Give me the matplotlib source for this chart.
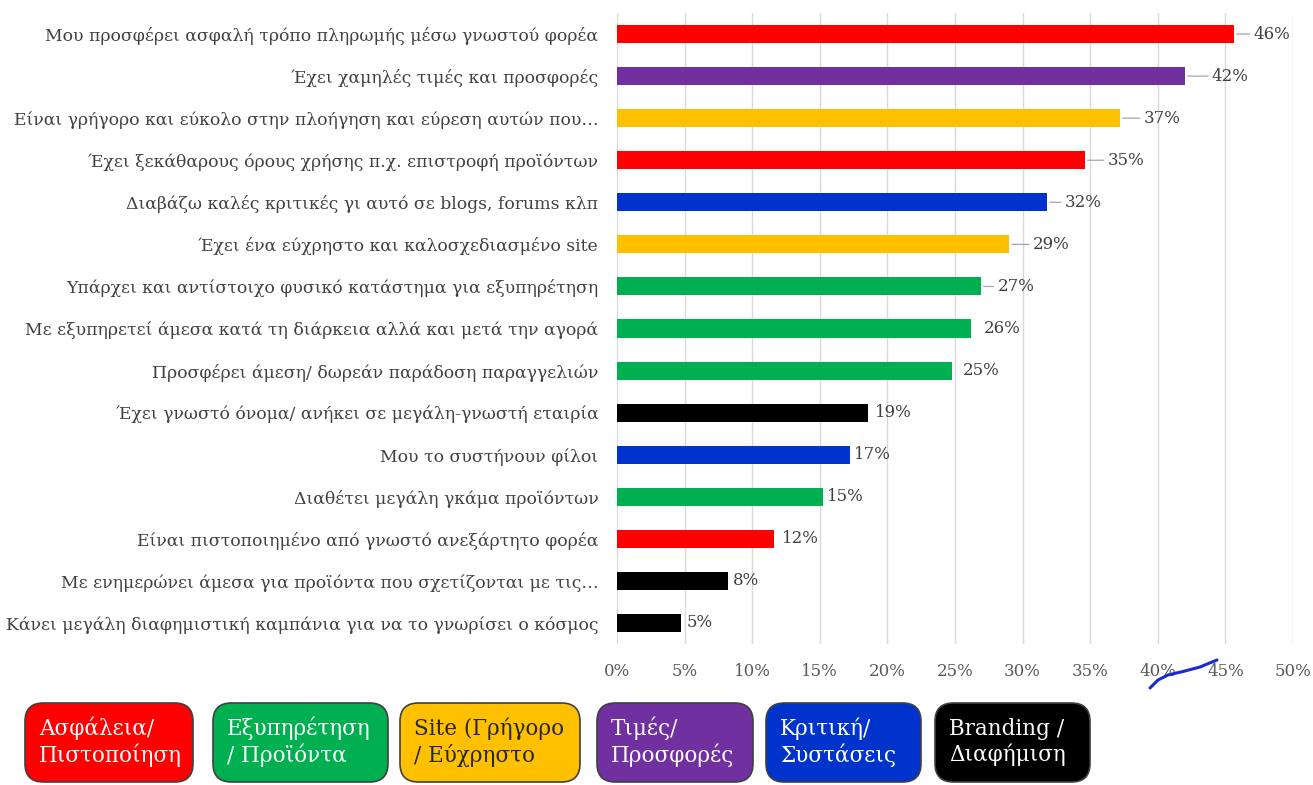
import matplotlib
matplotlib.use('Agg')
import matplotlib.pyplot as plt
from matplotlib.patches import FancyBboxPatch
from matplotlib.lines import Line2D
from matplotlib.ticker import FuncFormatter, MultipleLocator

plt.rcParams['font.family'] = ['DejaVu Serif']

# survey answers, top to bottom
reasons = [
    'Μου προσφέρει ασφαλή τρόπο πληρωμής μέσω γνωστού φορέα',
    'Έχει χαμηλές τιμές και προσφορές',
    'Είναι γρήγορο και εύκολο στην πλοήγηση και εύρεση αυτών που…',
    'Έχει ξεκάθαρους όρους χρήσης π.χ. επιστροφή προϊόντων',
    'Διαβάζω καλές κριτικές γι αυτό σε blogs, forums κλπ',
    'Έχει ένα εύχρηστο και καλοσχεδιασμένο site',
    'Υπάρχει και αντίστοιχο φυσικό κατάστημα για εξυπηρέτηση',
    'Με εξυπηρετεί άμεσα κατά τη διάρκεια αλλά και μετά την αγορά',
    'Προσφέρει άμεση/ δωρεάν παράδοση παραγγελιών',
    'Έχει γνωστό όνομα/ ανήκει σε μεγάλη-γνωστή εταιρία',
    'Μου το συστήνουν φίλοι',
    'Διαθέτει μεγάλη γκάμα προϊόντων',
    'Είναι πιστοποιημένο από γνωστό ανεξάρτητο φορέα',
    'Με ενημερώνει άμεσα για προϊόντα που σχετίζονται με τις…',
    'Κάνει μεγάλη διαφημιστική καμπάνια για να το γνωρίσει ο κόσμος',
]
shares = [45.6, 42.0, 37.2, 34.6, 31.8, 29.0, 26.9, 26.2, 24.8, 18.6, 17.2, 15.2, 11.6, 8.2, 4.7]
groups = ['security', 'price', 'site', 'security', 'review', 'site', 'service', 'service',
          'service', 'brand', 'review', 'service', 'security', 'brand', 'brand']

group_keys = ['security', 'service', 'site', 'price', 'review', 'brand']
group_names = ['Ασφάλεια/\nΠιστοποίηση', 'Εξυπηρέτηση\n/ Προϊόντα', 'Site (Γρήγορο\n/ Εύχρηστο',
               'Τιμές/\nΠροσφορές', 'Κριτική/\nΣυστάσεις', 'Branding /\nΔιαφήμιση']

colors = {'security': '#FF0000', 'service': '#00B050', 'site': '#FFC000',
          'price': '#7030A0', 'review': '#0033CC', 'brand': '#000000'}
text_on = {'security': 'white', 'service': 'white', 'site': '#262626',
           'price': 'white', 'review': 'white', 'brand': 'white'}

# pixel gap between bar end and its label; first seven use leader lines
label_gap = [20, 27, 24, 23, 18, 24, 17, 13, 11, 6, 4, 4, 8, 5, 6]
n_leaders = 7

W, H = 1313, 785
fig = plt.figure(figsize=(W / 100, H / 100), dpi=100)
ax = fig.add_axes([617 / W, 1 - 644 / H, (1293 - 617) / W, (644 - 13) / H])

ypos = list(range(len(reasons)))
ax.barh(ypos, shares, height=0.43, color=[colors[g] for g in groups], zorder=3)
ax.set_ylim(len(reasons) - 0.5, -0.5)
ax.set_xlim(0, 50)
ax.set_yticks(ypos)
ax.set_yticklabels(reasons, fontsize=12.4, color='#404040')
ax.xaxis.set_major_locator(MultipleLocator(5))
ax.xaxis.set_major_formatter(FuncFormatter(lambda v, p: f'{v:.0f}%'))
ax.tick_params(axis='x', labelsize=12, labelcolor='#595959', length=0, pad=14)
ax.tick_params(axis='y', length=0, pad=13.5)
ax.grid(axis='x', color='#D9D9D9', linewidth=1, zorder=0)
for s in ax.spines.values():
    s.set_visible(False)

for i, v in enumerate(shares):
    ax.annotate(f'{v:.0f}%', (v, i), xytext=(label_gap[i], 0), textcoords='offset pixels',
                ha='left', va='center', fontsize=12, color='#404040', zorder=4)
    if i < n_leaders:
        ax.annotate('', (v, i), xytext=(label_gap[i] - 4, 0), textcoords='offset pixels',
                    arrowprops=dict(arrowstyle='-', color='#A6A6A6', lw=0.9,
                                    shrinkA=0, shrinkB=2))

# coloured category boxes along the bottom
box_x = [25, 213, 400, 597, 766, 935]
box_w = [168, 175, 180, 156, 155, 155]
for k, name, x0, bw in zip(group_keys, group_names, box_x, box_w):
    box = FancyBboxPatch((x0 / W, 1 - 782 / H), bw / W, 79 / H,
                         boxstyle='round,pad=0,rounding_size=0.014',
                         transform=fig.transFigure, facecolor=colors[k],
                         edgecolor='#404040', linewidth=1.2, mutation_aspect=W / H)
    fig.patches.append(box)
    fig.text((x0 + 14) / W, 1 - 742 / H, name, ha='left', va='center',
             fontsize=15.5, color=text_on[k], linespacing=1.2)

# pen stroke across the 40-45% tick labels
px = [1150, 1158, 1168, 1185, 1200, 1217]
py = [688, 680, 675, 671, 667, 660]
fig.lines.append(Line2D([p / W for p in px], [1 - p / H for p in py],
                        transform=fig.transFigure, color='#1A2BD6', lw=2.2,
                        solid_capstyle='round', solid_joinstyle='round'))

fig.savefig('out.png', dpi=100, facecolor='white')
